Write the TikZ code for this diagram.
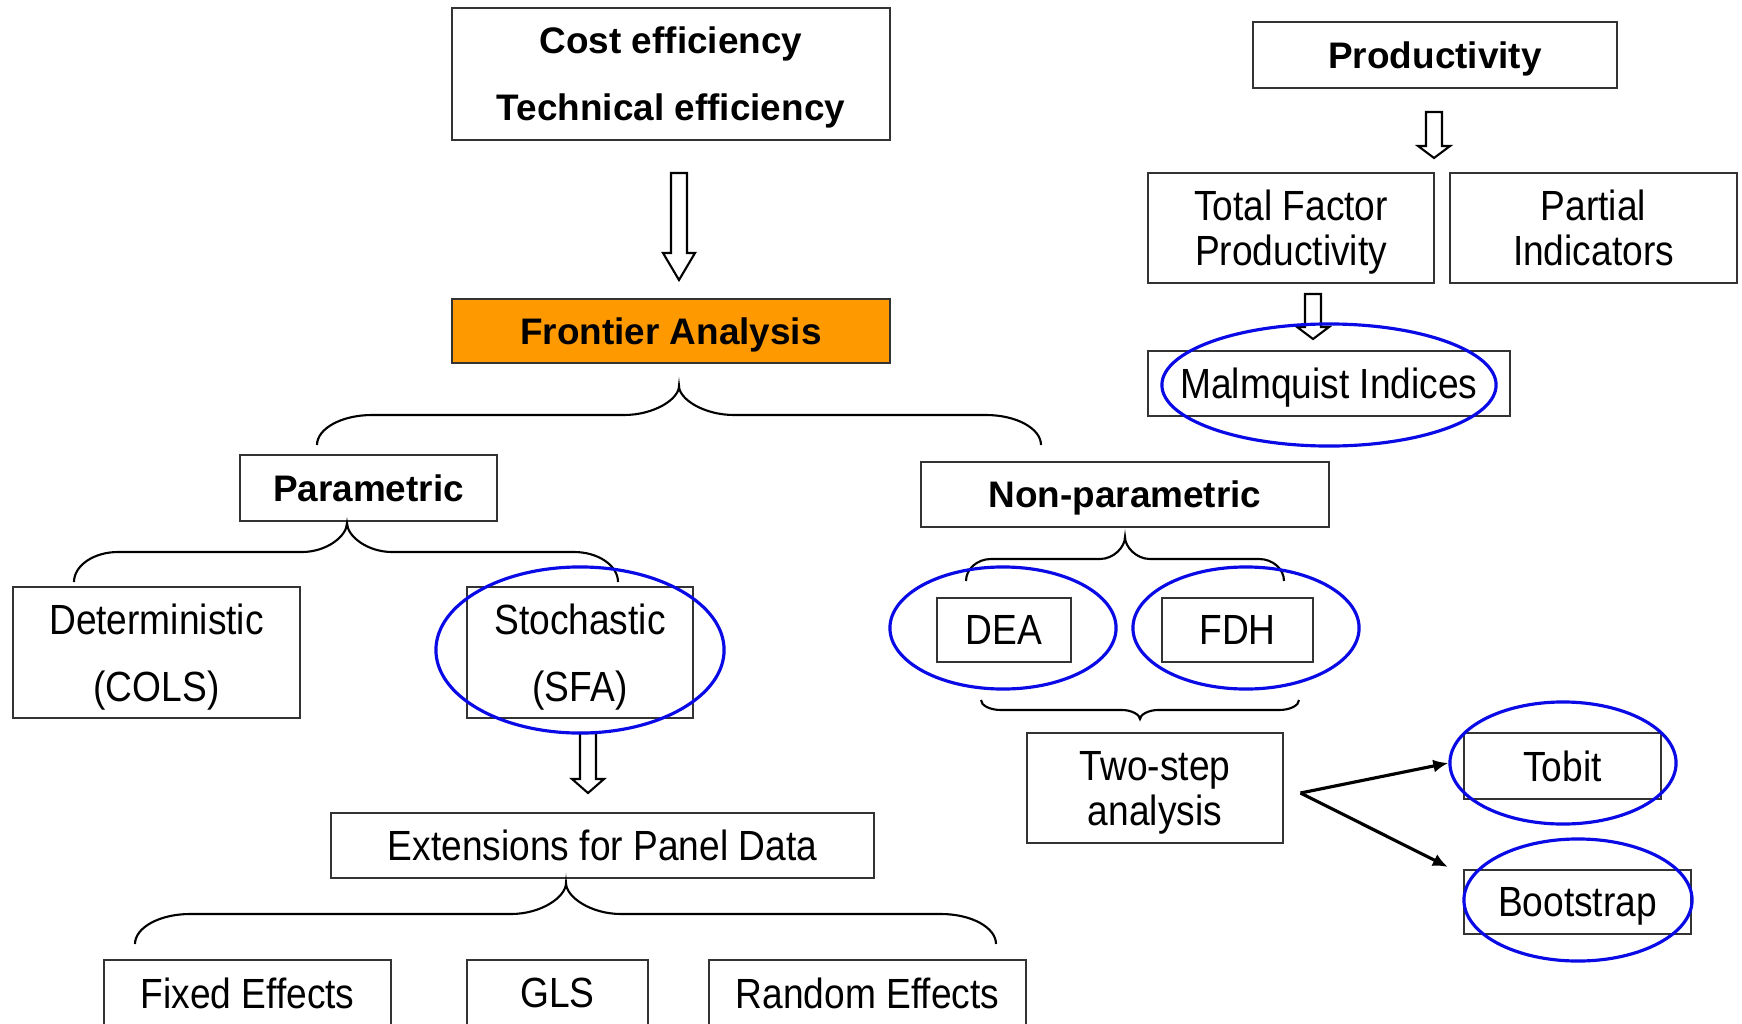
\documentclass[tikz,border=0pt]{standalone}
\usepackage{fontspec}
\setmainfont{Liberation Sans}
\newfontfamily\narrowsf[FakeStretch=0.88]{Liberation Sans}
\usetikzlibrary{arrows.meta,shapes.geometric}

\definecolor{frontorange}{HTML}{FF9900}
\definecolor{ringblue}{HTML}{0A0AE6}

\tikzset{
  box/.style={draw=black!80, line width=0.6pt, inner sep=0pt, align=center, text depth=0pt,
    font=\narrowsf\fontsize{12}{12.8}\selectfont},
  tallbox/.style={box, font=\narrowsf\fontsize{12}{19}\selectfont},
  headbox/.style={box, font=\bfseries\fontsize{10.5}{19}\selectfont},
  ring/.style={ellipse, draw=ringblue, line width=0.9pt, inner sep=0pt},
  hollow/.style={draw=black, line width=0.6pt, fill=white},
  curlybrace/.style={draw=black, line width=0.6pt},
  fork/.style={line width=0.9pt, -{Latex[length=1.5mm,width=1.3mm]}},
}

% left, right, end y, flat y, tip x, tip y, corner, centre
\newcommand{\curly}[8]{%
  \draw[curlybrace] (#1,#3) .. controls (#1,{#4+0.45*(#3-#4)}) and ({#1+0.45*#7},#4) .. ({#1+#7},#4)
    -- ({#5-#8},#4) .. controls ({#5-0.45*#8},#4) and (#5,{#4+0.55*(#6-#4)}) .. (#5,#6)
    .. controls (#5,{#4+0.55*(#6-#4)}) and ({#5+0.45*#8},#4) .. ({#5+#8},#4)
    -- ({#2-#7},#4) .. controls ({#2-0.45*#7},#4) and (#2,{#4+0.45*(#3-#4)}) .. (#2,#3);}

% x, top, tip, head length
\newcommand{\blockarrow}[4]{%
  \draw[hollow] ({#1-8},#2) -- ({#1+8},#2) -- ({#1+8},{#3-#4}) -- ({#1+16},{#3-#4})
    -- (#1,#3) -- ({#1-16},{#3-#4}) -- ({#1-8},{#3-#4}) -- cycle;}

\begin{document}
\begin{tikzpicture}[x=0.01cm, y=-0.01cm]
  \useasboundingbox (0,0) rectangle (1742,1024);
  \clip (0,0) rectangle (1742,1024);
  \fill[white] (0,0) rectangle (1742,1024);

  % frontier side
  \node[headbox, minimum width=4.38cm, minimum height=1.32cm] (cost) at (671,74) {Cost efficiency\\Technical efficiency};
  \node[headbox, fill=frontorange, minimum width=4.38cm, minimum height=0.64cm] (frontier) at (671,331) {Frontier Analysis};
  \node[headbox, minimum width=2.57cm, minimum height=0.66cm] (param) at (368.5,488) {Parametric};
  \node[headbox, minimum width=4.08cm, minimum height=0.65cm] (nonparam) at (1125,494.5) {Non-parametric};
  \node[tallbox, minimum width=2.87cm, minimum height=1.31cm] (determ) at (156.5,652.5) {Deterministic\\(COLS)};
  \node[tallbox, minimum width=2.26cm, minimum height=1.31cm] (stoch) at (580,652.5) {Stochastic\\(SFA)};
  \node[box, minimum width=5.43cm, minimum height=0.65cm] (panel) at (602.5,845.5) {Extensions for Panel Data};
  \node[box, minimum width=2.87cm, minimum height=0.66cm] (fixed) at (247.5,993) {Fixed Effects};
  \node[box, minimum width=1.81cm, minimum height=0.66cm] (gls) at (557.5,993) {GLS};
  \node[box, minimum width=3.17cm, minimum height=0.66cm] (random) at (867.5,993) {Random Effects};
  \node[box, minimum width=1.34cm, minimum height=0.64cm] (dea) at (1004,630) {DEA};
  \node[box, minimum width=1.51cm, minimum height=0.64cm] (fdh) at (1237.5,630) {FDH};
  \node[box, line width=0.8pt, minimum width=2.56cm, minimum height=1.10cm] (twostep) at (1155,788) {Two-step\\analysis};
  \node[box, minimum width=1.97cm, minimum height=0.66cm] (tobit) at (1562.5,766) {Tobit};
  \node[box, minimum width=2.27cm, minimum height=0.64cm] (boot) at (1577.5,902) {Bootstrap};

  % productivity side
  \node[headbox, minimum width=3.64cm, minimum height=0.66cm] (prod) at (1435,55) {Productivity};
  \node[box, minimum width=2.86cm, minimum height=1.10cm] (tfp) at (1291,228) {Total Factor\\Productivity};
  \node[box, minimum width=2.87cm, minimum height=1.10cm] (partial) at (1593.5,228) {Partial\\Indicators};
  \node[box, minimum width=3.62cm, minimum height=0.65cm] (malm) at (1329,383.5) {Malmquist Indices};

  \curly{317}{1041}{445}{415}{679}{386}{55}{55}
  \curly{74}{618}{582}{552}{347}{523}{44}{45}
  \curly{966}{1284}{581}{559}{1125}{537}{25}{25}
  \curly{981}{1299}{700}{710}{1140}{719}{20}{18}
  \curly{135}{996}{944}{914}{566}{883}{55}{55}

  \blockarrow{679}{173}{280}{27}
  \blockarrow{1434}{112}{158}{12}
  \blockarrow{1313}{294}{339}{12}
  \blockarrow{588}{733}{793}{14}

  \node[ring, minimum width=2.88cm, minimum height=1.66cm] (stochring) at (580,650) {};
  \node[ring, minimum width=3.34cm, minimum height=1.22cm] (malmring) at (1329,385) {};
  \node[ring, minimum width=2.26cm, minimum height=1.22cm] (dearing) at (1003,628) {};
  \node[ring, minimum width=2.26cm, minimum height=1.22cm] (fdhring) at (1246,628) {};
  \node[ring, minimum width=2.26cm, minimum height=1.22cm] (tobitring) at (1563,763) {};
  \node[ring, minimum width=2.28cm, minimum height=1.22cm] (bootring) at (1578,900) {};

  \coordinate (fork) at ([xshift=0.16cm,yshift=-0.05cm]twostep.east);
  \draw[fork] (fork) -- (tobitring.west);
  \draw[fork] (fork) -- ([xshift=-0.15cm,yshift=0.02cm]boot.north west);
\end{tikzpicture}
\end{document}
